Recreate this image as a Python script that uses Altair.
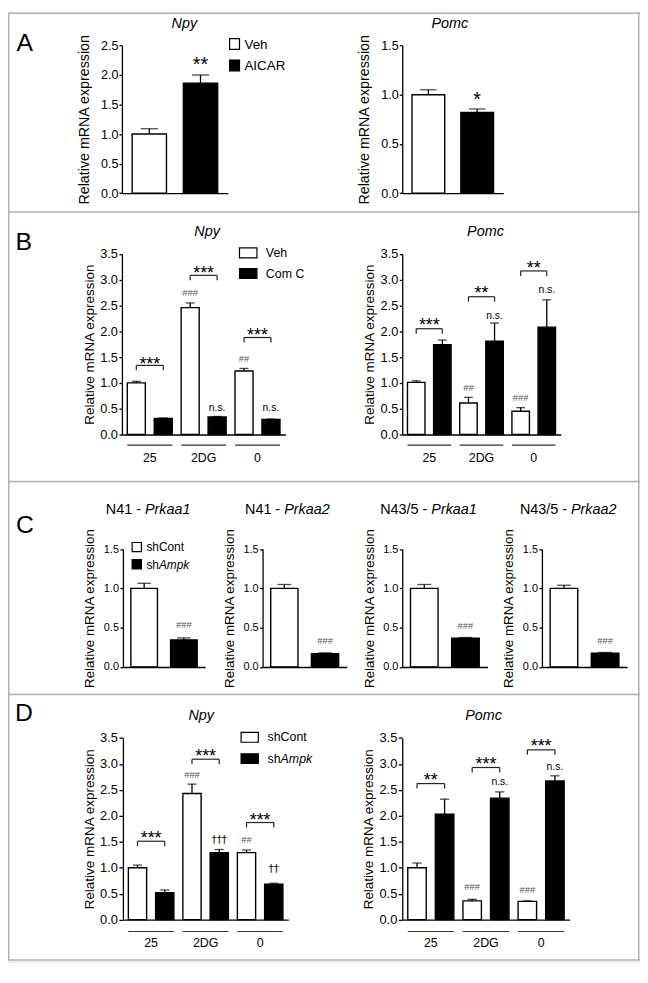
import altair as alt
import pandas as pd

FONT = "Liberation Sans"
W, H = 638, 958
SX = 8
SY = {"A": 6, "B": 14, "C": 21, "D": 25}


def vx(x):
    return x - SX


def vy(y, sec):
    return y - SY[sec]


# ===================== data =====================
# --- A ---
A_cats = ["Veh", "AICAR"]
A_npy_mean = [1.00, 1.86]
A_npy_upper = [1.09, 2.00]
A_npy_notes = [("AICAR", 2.26, "**", "star")]
A_pomc_mean = [1.00, 0.82]
A_pomc_upper = [1.05, 0.855]
A_pomc_notes = [("AICAR", 1.00, "*", "star")]

# --- B ---
B_groups = ["25", "2DG", "0"]
B_treat = ["Veh", "Com C"]
B_npy_mean = [1.00, 0.31, 2.46, 0.34, 1.23, 0.29]
B_npy_upper = [1.03, 0.32, 2.55, 0.35, 1.28, 0.30]
B_npy_brackets = [("25", 1.34, 1.44, "***"), ("2DG", 3.085, 3.20, "***"), ("0", 1.88, 2.00, "***")]
B_npy_notes = [("2DG", "Veh", 2.75, "###", "hash"), ("0", "Veh", 1.47, "##", "hash"),
               ("2DG", "Com C", 0.51, "n.s.", "ns"), ("0", "Com C", 0.51, "n.s.", "ns")]
B_pomc_mean = [1.01, 1.74, 0.61, 1.81, 0.45, 2.08]
B_pomc_upper = [1.04, 1.83, 0.72, 2.16, 0.52, 2.61]
B_pomc_brackets = [("25", 2.05, 2.19, "***"), ("2DG", 2.67, 2.82, "**"), ("0", 3.17, 3.30, "**")]
B_pomc_notes = [("2DG", "Veh", 0.90, "##", "hash"), ("0", "Veh", 0.70, "###", "hash"),
                ("2DG", "Com C", 2.30, "n.s.", "ns"), ("0", "Com C", 2.80, "n.s.", "ns")]

# --- C ---
C_cats = ["shCont", "shAmpk"]
C_titles = [("N41 - ", "Prkaa1"), ("N41 - ", "Prkaa2"), ("N43/5 - ", "Prkaa1"), ("N43/5 - ", "Prkaa2")]
C_mean = [[1.00, 0.345], [1.00, 0.17], [1.00, 0.365], [1.00, 0.175]]
C_upper = [[1.065, 0.37], [1.05, 0.18], [1.05, 0.375], [1.04, 0.185]]
C_hash = [0.54, 0.33, 0.52, 0.33]

# --- D ---
D_groups = ["25", "2DG", "0"]
D_treat = ["shCont", "shAmpk"]
D_npy_mean = [1.00, 0.52, 2.43, 1.29, 1.29, 0.68]
D_npy_upper = [1.05, 0.57, 2.61, 1.35, 1.34, 0.70]
D_npy_brackets = [("25", 1.51, 1.64, "***"), ("2DG", 3.09, 3.23, "***"), ("0", 1.87, 2.00, "***")]
D_npy_notes = [("2DG", "shCont", 2.78, "###", "hash"), ("2DG", "shAmpk", 1.54, "\u2020\u2020\u2020", "dag"),
               ("0", "shCont", 1.53, "##", "hash"), ("0", "shAmpk", 0.97, "\u2020\u2020", "dag")]
D_pomc_mean = [1.00, 2.03, 0.36, 2.34, 0.35, 2.67]
D_pomc_upper = [1.09, 2.32, 0.39, 2.46, 0.36, 2.77]
D_pomc_brackets = [("25", 2.62, 2.76, "**"), ("2DG", 2.93, 3.07, "***"), ("0", 3.27, 3.42, "***")]
D_pomc_notes = [("2DG", "shCont", 0.62, "###", "hash"), ("0", "shCont", 0.57, "###", "hash"),
                ("2DG", "shAmpk", 2.65, "n.s.", "ns"), ("0", "shAmpk", 2.94, "n.s.", "ns")]

YTITLE = "Relative mRNA expression"

# ===================== styles =====================
NOTE_STYLE = {"ns": (10.5, "black", FONT), "hash": (9.5, "#555555", FONT), "dag": (10.5, "black", "DejaVu Sans")}
ST = {
    "A": dict(lfs=12.7, tfs=14.4, tpad=9, tick=3, lpad=1),
    "B": dict(lfs=12.9, tfs=13.6, tpad=3.5, tick=3, lpad=1.5, uoff=10.7, loff=23.3),
    "C": dict(lfs=11, tfs=13.5, tpad=6.5, tick=3, lpad=1.5),
    "D": dict(lfs=13, tfs=13.6, tpad=3, tick=4, lpad=1.5, uoff=12, loff=23.3),
}


def key(g, t):
    return g + "|" + t


def bar_panel(cats, grps, mean, upper, ymax, xr, yr, fill_dom, st,
              notes=(), brackets=(), glabels=(), star_size=18):
    n = len(cats)
    pi, po = 0.33, 0.2
    step = (xr[1] - xr[0]) / (n - pi + 2 * po)
    bw = step * (1 - pi)
    xs = alt.Scale(type="band", domain=cats, range=list(xr), paddingInner=pi, paddingOuter=po)
    ys = alt.Scale(type="linear", domain=[0, ymax], range=list(yr), nice=False, zero=False)
    ticks = [i * 0.5 for i in range(int(round(ymax / 0.5)) + 1)]
    xax = alt.Axis(orient="bottom", offset=yr[0] - H, labels=False, ticks=False, title=None,
                   grid=False, domainColor="black", domainWidth=1.3, zindex=2)
    yax = alt.Axis(orient="left", offset=-xr[0], values=ticks, format=".1f", grid=False,
                   title=YTITLE, titleFont=FONT, titleFontSize=st["tfs"], titleFontWeight="normal",
                   titleColor="black", titlePadding=st["tpad"], labelFont=FONT,
                   labelFontSize=st["lfs"], labelColor="black", labelPadding=st["lpad"],
                   tickSize=st["tick"], tickColor="black", tickWidth=1.3,
                   domainColor="black", domainWidth=1.3, zindex=2)
    df = pd.DataFrame({"cat": cats, "grp": grps, "mean": mean, "upper": upper})
    # every layer of a panel shares the same scale and axis definition
    X = lambda f: alt.X(f, type="nominal", scale=xs, axis=xax)
    Y = lambda f: alt.Y(f, type="quantitative", scale=ys, axis=yax)

    layers = [
        alt.Chart(df).mark_bar(stroke="black", strokeWidth=1.4).encode(
            x=X("cat"), y=Y("mean"),
            fill=alt.Fill("grp:N", scale=alt.Scale(domain=fill_dom, range=["white", "black"]), legend=None),
        ),
        alt.Chart(df).mark_rule(color="black", strokeWidth=1.3).encode(
            x=X("cat"), y=Y("mean"), y2="upper:Q"),
        alt.Chart(df).mark_tick(color="black", thickness=1.3, size=bw / 2, orient="horizontal").encode(
            x=X("cat"), y=Y("upper")),
    ]

    if brackets:
        bdf = pd.DataFrame({
            "c1": [b[0] for b in brackets], "c2": [b[1] for b in brackets],
            "top": [b[2] for b in brackets], "sy": [b[3] for b in brackets],
            "txt": [b[4] for b in brackets]})
        ldf = pd.DataFrame({"c": list(bdf["c1"]) + list(bdf["c2"]),
                            "top": list(bdf["top"]) + list(bdf["top"])})
        layers += [
            alt.Chart(bdf).mark_rule(color="#222222", strokeWidth=1.2).encode(
                x=X("c1"), x2="c2:N", y=Y("top")),
            alt.Chart(ldf).mark_rule(color="#222222", strokeWidth=1.2, y2Offset=5).encode(
                x=X("c"), y=Y("top"), y2="top:Q"),
            alt.Chart(bdf).mark_text(font=FONT, fontSize=star_size, color="black",
                                     dx=step / 2, dy=0.27 * star_size, baseline="middle").encode(
                x=X("c1"), y=Y("sy"), text="txt:N"),
        ]

    stars = [nn for nn in notes if nn[3] == "star"]
    if stars:
        sdf = pd.DataFrame({"cat": [s[0] for s in stars], "y": [s[1] for s in stars],
                            "txt": [s[2] for s in stars]})
        layers.append(alt.Chart(sdf).mark_text(font=FONT, fontSize=star_size, color="black",
                                               dy=0.27 * star_size, baseline="middle").encode(
            x=X("cat"), y=Y("y"), text="txt:N"))
    for kind, (fs, col, fnt) in NOTE_STYLE.items():
        sel = [nn for nn in notes if nn[3] == kind]
        if not sel:
            continue
        ndf = pd.DataFrame({"cat": [s[0] for s in sel], "y": [s[1] for s in sel],
                            "txt": [s[2] for s in sel]})
        layers.append(alt.Chart(ndf).mark_text(font=fnt, fontSize=fs, color=col,
                                               baseline="middle").encode(
            x=X("cat"), y=Y("y"), text="txt:N"))

    if glabels:
        gdf = pd.DataFrame({"c1": [g[0] for g in glabels], "c2": [g[1] for g in glabels],
                            "txt": [g[2] for g in glabels], "zero": [0.0] * len(glabels)})
        layers += [
            alt.Chart(gdf).mark_rule(color="#333333", strokeWidth=1.2, xOffset=-bw / 2,
                                     x2Offset=bw / 2, yOffset=st["uoff"]).encode(
                x=X("c1"), x2="c2:N", y=Y("zero")),
            alt.Chart(gdf).mark_text(font=FONT, fontSize=12.5, color="black", dx=step / 2,
                                     dy=st["loff"], baseline="middle").encode(
                x=X("c1"), y=Y("zero"), text="txt:N"),
        ]
    return alt.layer(*layers)


panels = []

# A
yrA = (vy(188.3, "A"), vy(39.3, "A"))
panels.append(bar_panel(A_cats, A_cats, A_npy_mean, A_npy_upper, 2.5, (vx(123), vx(230)), yrA,
                        A_cats, ST["A"], notes=A_npy_notes, star_size=20))
panels.append(bar_panel(A_cats, A_cats, A_pomc_mean, A_pomc_upper, 1.5, (vx(406), vx(508)), yrA,
                        A_cats, ST["A"], notes=A_pomc_notes, star_size=20))


def grouped(groups, treat, mean, upper, brackets, notes, xr, yr, st):
    cats = [key(g, t) for g in groups for t in treat]
    grps = [t for g in groups for t in treat]
    br = [(key(g, treat[0]), key(g, treat[1]), top, sy, txt) for g, top, sy, txt in brackets]
    nt = [(key(g, t), y, txt, kind) for g, t, y, txt, kind in notes]
    gl = [(key(g, treat[0]), key(g, treat[1]), g) for g in groups]
    return bar_panel(cats, grps, mean, upper, 3.5, xr, yr, treat, st,
                     notes=nt, brackets=br, glabels=gl, star_size=18)


yrB = (vy(440, "B"), vy(257.7, "B"))
panels.append(grouped(B_groups, B_treat, B_npy_mean, B_npy_upper, B_npy_brackets, B_npy_notes,
                      (vx(123), vx(288)), yrB, ST["B"]))
panels.append(grouped(B_groups, B_treat, B_pomc_mean, B_pomc_upper, B_pomc_brackets, B_pomc_notes,
                      (vx(406), vx(566)), yrB, ST["B"]))

# C
yrC = (vy(681.7, "C"), vy(562.7, "C"))
C_xr = [(vx(124), vx(207)), (vx(265), vx(350)), (vx(406), vx(492)), (vx(547), vx(633))]
for i in range(4):
    panels.append(bar_panel(C_cats, C_cats, C_mean[i], C_upper[i], 1.5, C_xr[i], yrC, C_cats,
                            ST["C"], notes=[("shAmpk", C_hash[i], "###", "hash")]))

# D
yrD = (vy(940.7, "D"), vy(757.3, "D"))
panels.append(grouped(D_groups, D_treat, D_npy_mean, D_npy_upper, D_npy_brackets, D_npy_notes,
                      (vx(124), vx(291)), yrD, ST["D"]))
panels.append(grouped(D_groups, D_treat, D_pomc_mean, D_pomc_upper, D_pomc_brackets, D_pomc_notes,
                      (vx(406), vx(575)), yrD, ST["D"]))

# ===================== decoration (frame, titles, legends) =====================
ARIAL = {"N": 722, "4": 556, "1": 556, "3": 556, "/": 278, "5": 556, " ": 278, "-": 333,
         "P": 667, "r": 333, "k": 500, "a": 556, "2": 556, "s": 500, "h": 556}


def tw(s, fs):
    return sum(ARIAL[c] for c in s) * fs / 1000.0


FRAME = "#b0b0b0"
frame = pd.DataFrame([
    (0, 0.75, W, 0.75), (0, H - 1.5, W, H - 1.5), (0.75, 0, 0.75, H - 1.5), (W - 1.25, 0, W - 1.25, H - 1.5),
    (0, 201.5, W, 201.5), (0, 473.5, W, 473.5), (0, 688.5, W, 688.5),
], columns=["x1", "y1", "x2", "y2"])

texts = []  # x, y, txt, fs, italic, align
for L, xx, yy, sec in [("A", 25, 37, "A"), ("B", 24, 246, "B"), ("C", 25, 538.5, "C"), ("D", 24, 732.5, "D")]:
    texts.append((vx(xx), vy(yy, sec), L, 25, False, "center"))
for t, xx, yy, sec in [("Npy", 186, 17.5, "A"), ("Pomc", 454, 17.5, "A"),
                       ("Npy", 209, 236, "B"), ("Pomc", 490, 236, "B"),
                       ("Npy", 203, 735.5, "D"), ("Pomc", 488, 735.5, "D")]:
    texts.append((vx(xx), vy(yy, sec), t, 14.5, True, "center"))
for (a, b), cx in zip(C_titles, [149.5, 290, 432.5, 573.5]):
    fs = 14.5
    total = tw(a, fs) + tw(b, fs)
    x0 = vx(cx) - total / 2
    texts.append((x0, vy(523, "C"), a, fs, False, "left"))
    texts.append((x0 + tw(a, fs), vy(523, "C"), b, fs, True, "left"))

boxes = []  # x1, y1, x2, y2, fill
boxes += [(vx(231.7), vy(32.3, "A"), vx(241.7), vy(43.3, "A"), "white"),
          (vx(231.7), vy(54, "A"), vx(241.7), vy(65, "A"), "black")]
texts += [(vx(246.7), vy(38.5, "A"), "Veh", 13.5, False, "left"),
          (vx(246.7), vy(60.5, "A"), "AICAR", 13.5, False, "left")]
boxes += [(vx(241.7), vy(251.7, "B"), vx(259.3), vy(261.7, "B"), "white"),
          (vx(241.7), vy(272.5, "B"), vx(259.3), vy(282.5, "B"), "black")]
texts += [(vx(268.3), vy(256.7, "B"), "Veh", 12.5, False, "left"),
          (vx(268.3), vy(277.7, "B"), "Com C", 12.5, False, "left")]
boxes += [(vx(133.3), vy(556, "C"), vx(142.7), vy(565.3, "C"), "white"),
          (vx(133.3), vy(573.3, "C"), vx(142.7), vy(582.7, "C"), "black")]
texts += [(vx(147.7), vy(560.7, "C"), "shCont", 12, False, "left"),
          (vx(147.7), vy(578.3, "C"), "sh", 12, False, "left"),
          (vx(147.7) + tw("sh", 12), vy(578.3, "C"), "Ampk", 12, True, "left")]
boxes += [(vx(243.3), vy(751.7, "D"), vx(260.7), vy(761.7, "D"), "white"),
          (vx(243.3), vy(773.3, "D"), vx(260.7), vy(783, "D"), "black")]
texts += [(vx(270), vy(756.7, "D"), "shCont", 12.5, False, "left"),
          (vx(270), vy(778.3, "D"), "sh", 12.5, False, "left"),
          (vx(270) + tw("sh", 12.5), vy(778.3, "D"), "Ampk", 12.5, True, "left")]

tdf = pd.DataFrame(texts, columns=["x", "y", "txt", "fs", "italic", "align"])
bdf = pd.DataFrame(boxes, columns=["x1", "y1", "x2", "y2", "fill"])

PX = lambda f: alt.X(f, type="quantitative", scale=None)
PY = lambda f: alt.Y(f, type="quantitative", scale=None)

deco = [
    alt.Chart(frame).mark_rule(color=FRAME, strokeWidth=1.5).encode(
        x=PX("x1"), x2="x2:Q", y=PY("y1"), y2="y2:Q"),
    alt.Chart(bdf).mark_rect(stroke="black", strokeWidth=1.2).encode(
        x=PX("x1"), x2="x2:Q", y=PY("y1"), y2="y2:Q",
        fill=alt.Fill("fill:N", scale=None, legend=None)),
]
for italic in (False, True):
    for align in ("left", "center"):
        sub = tdf[(tdf["italic"] == italic) & (tdf["align"] == align)]
        if len(sub) == 0:
            continue
        deco.append(alt.Chart(sub).mark_text(
            font=FONT, color="black", align=align, baseline="middle",
            fontStyle="italic" if italic else "normal").encode(
            x=PX("x"), y=PY("y"), text="txt:N",
            size=alt.Size("fs:Q", scale=None, legend=None)))

chart = alt.layer(*panels, *deco).resolve_scale(
    x="independent", y="independent", fill="independent"
).resolve_axis(
    x="independent", y="independent"
).properties(
    width=W, height=H, padding=0, background="white",
    autosize=alt.AutoSizeParams(type="none"),
).configure_view(stroke=None).configure(font=FONT)

chart.save("out.html", embed_options={"renderer": "svg", "actions": False})
